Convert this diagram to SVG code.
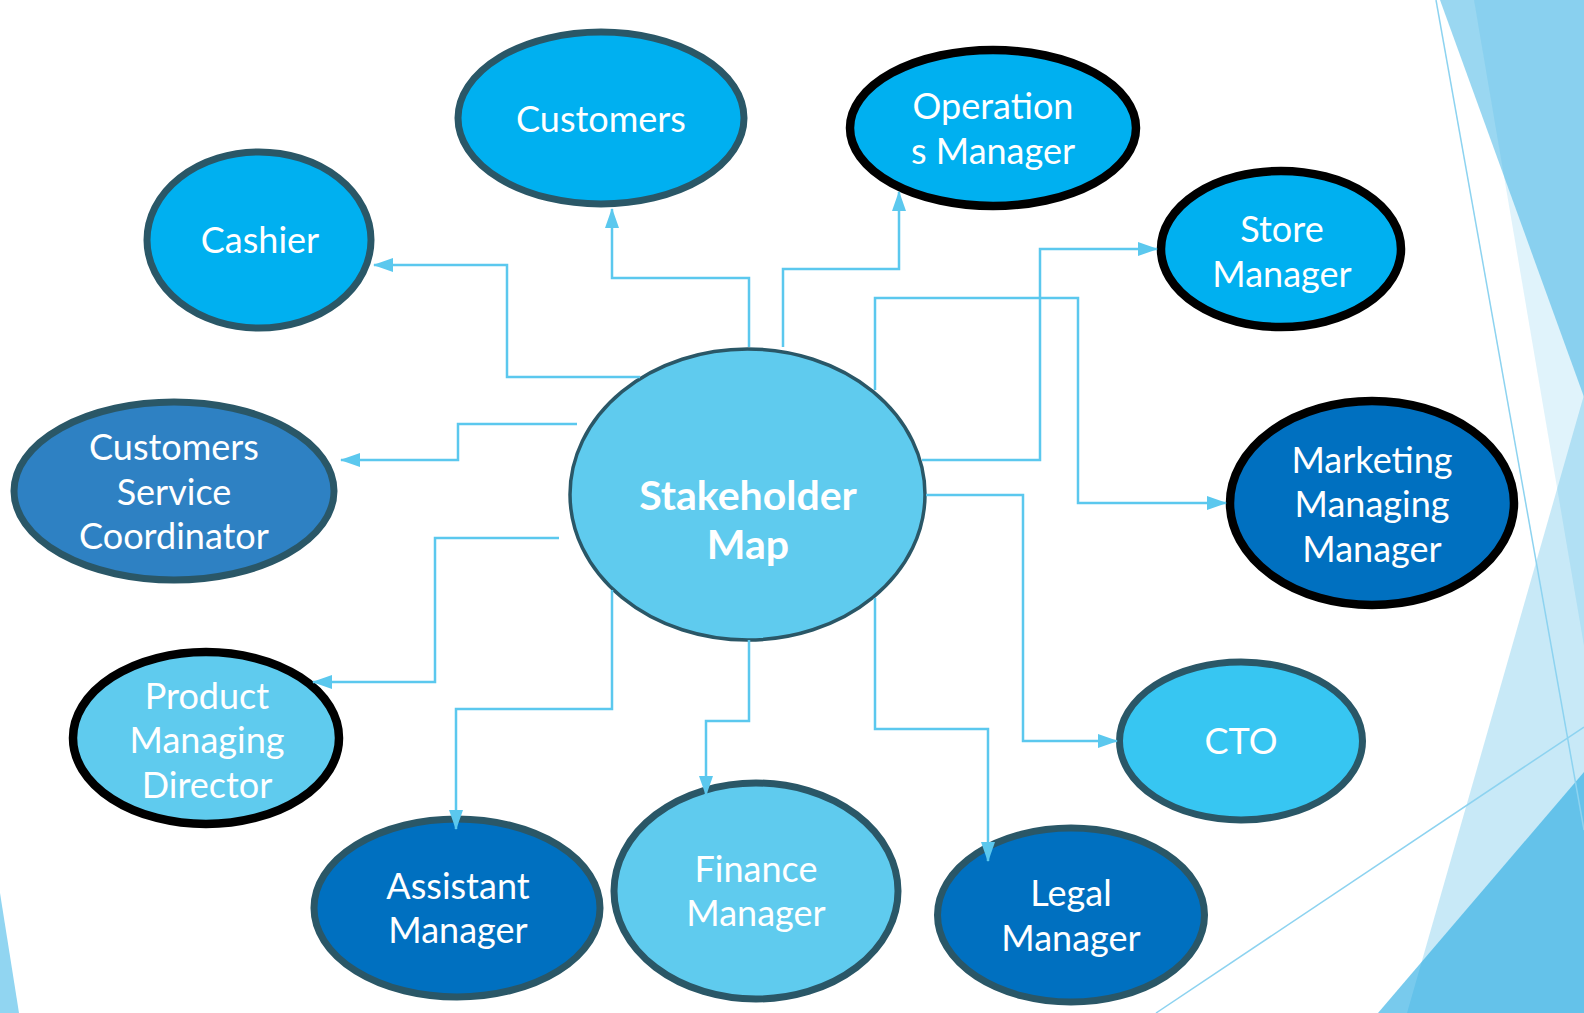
<svg xmlns="http://www.w3.org/2000/svg" width="1584" height="1013" viewBox="0 0 1584 1013">
<defs>
<style>
.bgc{fill:#29ABE2;stroke:none}
.thin{stroke:#8DD3F0;stroke-width:1.5;fill:none}
.node ellipse{stroke-width:7}
.slate{stroke:#2A5767}
.blk{stroke:#000000;stroke-width:8.5 !important}
.t{font-family:Lato,"Open Sans","Liberation Sans",sans-serif;font-size:36px;fill:#FFFFFF;text-anchor:middle}
.tb{font-weight:bold;font-size:41px}
.c{fill:none;stroke:#5BC8EE;stroke-width:2.5;marker-end:url(#ah)}
</style>
<marker id="ah" markerUnits="userSpaceOnUse" markerWidth="20" markerHeight="14" refX="19" refY="7" orient="auto">
<path d="M0,0 L20,7 L0,14 z" fill="#5BC8EE"/>
</marker>
</defs>
<rect x="0" y="0" width="1584" height="1013" fill="#FFFFFF"/>
<g id="background">
<polygon class="bgc" fill-opacity="0.47" points="1440,0 1584,0 1584,397"/>
<polygon class="bgc" fill-opacity="0.145" points="1474,0 1584,0 1584,646"/>
<polygon class="bgc" fill-opacity="0.257" points="1584,395 1584,1013 1407,1013"/>
<polygon class="bgc" fill-opacity="0.63" points="1378,1013 1584,772 1584,1013"/>
<polygon fill="#91D5F1" points="0,893 0,1013 19,1013"/>
<line class="thin" x1="1436" y1="0" x2="1584" y2="830"/>
<line class="thin" x1="1156" y1="1013" x2="1584" y2="727"/>
</g>
<g id="node-customers" class="node"><ellipse class="slate" cx="601" cy="118" rx="143" ry="86" fill="#00B0F0"/><text class="t" x="601" y="132">Customers</text></g>
<g id="node-operations-manager" class="node"><ellipse class="blk" cx="993" cy="128" rx="143" ry="78" fill="#00B0F0"/><text class="t" x="993" y="119">Operation</text><text class="t" x="993" y="164">s Manager</text></g>
<g id="node-cashier" class="node"><ellipse class="slate" cx="259" cy="240" rx="112" ry="88" fill="#00B0F0"/><text class="t" x="260" y="253">Cashier</text></g>
<g id="node-store-manager" class="node"><ellipse class="blk" cx="1281" cy="249" rx="120" ry="78" fill="#00B0F0"/><text class="t" x="1282" y="242">Store</text><text class="t" x="1282" y="287">Manager</text></g>
<g id="node-customers-service-coordinator" class="node"><ellipse class="slate" cx="174" cy="491" rx="160" ry="89" fill="#2E81C3"/><text class="t" x="174" y="460">Customers</text><text class="t" x="174" y="505">Service</text><text class="t" x="174" y="549">Coordinator</text></g>
<g id="node-stakeholder-map" class="node"><ellipse cx="747.5" cy="494.5" rx="177.5" ry="145.5" fill="#5FCBEE" stroke="#2A5767" style="stroke-width:3.5"/><text class="t tb" x="748" y="510">Stakeholder</text><text class="t tb" x="748" y="559">Map</text></g>
<g id="node-marketing-managing-manager" class="node"><ellipse class="blk" cx="1372" cy="503" rx="142" ry="102" fill="#0070C0"/><text class="t" x="1372" y="473">Marketing</text><text class="t" x="1372" y="517">Managing</text><text class="t" x="1372" y="562">Manager</text></g>
<g id="node-product-managing-director" class="node"><ellipse class="blk" cx="206" cy="738" rx="133" ry="86" fill="#5FCBEE"/><text class="t" x="207" y="709">Product</text><text class="t" x="207" y="753">Managing</text><text class="t" x="207" y="798">Director</text></g>
<g id="node-cto" class="node"><ellipse class="slate" cx="1241" cy="741" rx="121.5" ry="79" fill="#37C6F2"/><text class="t" x="1241" y="754">CTO</text></g>
<g id="node-assistant-manager" class="node"><ellipse class="slate" cx="457" cy="908" rx="143" ry="89" fill="#0070C0"/><text class="t" x="458" y="899">Assistant</text><text class="t" x="458" y="943">Manager</text></g>
<g id="node-finance-manager" class="node"><ellipse class="slate" cx="756" cy="891" rx="142" ry="108" fill="#5FCBEE"/><text class="t" x="756" y="882">Finance</text><text class="t" x="756" y="926">Manager</text></g>
<g id="node-legal-manager" class="node"><ellipse class="slate" cx="1071" cy="915" rx="133.5" ry="87" fill="#0070C0"/><text class="t" x="1071" y="906">Legal</text><text class="t" x="1071" y="951">Manager</text></g>
<g id="connectors">
<path class="c" d="M640,377 H507 V265 H374"/>
<path class="c" d="M749,347 V278 H612 V209"/>
<path class="c" d="M783,347 V269 H899 V192"/>
<path class="c" d="M922,460 H1040 V249 H1157"/>
<path class="c" d="M875,390 V298 H1078 V503 H1226"/>
<path class="c" d="M577,424 H458 V460 H341"/>
<path class="c" d="M559,538 H435 V682 H313"/>
<path class="c" d="M612,590 V709 H456 V829"/>
<path class="c" d="M749,640 V721 H706 V795"/>
<path class="c" d="M875,598 V729 H988 V861"/>
<path class="c" d="M926,495 H1023 V741 H1117"/>
</g>
</svg>
